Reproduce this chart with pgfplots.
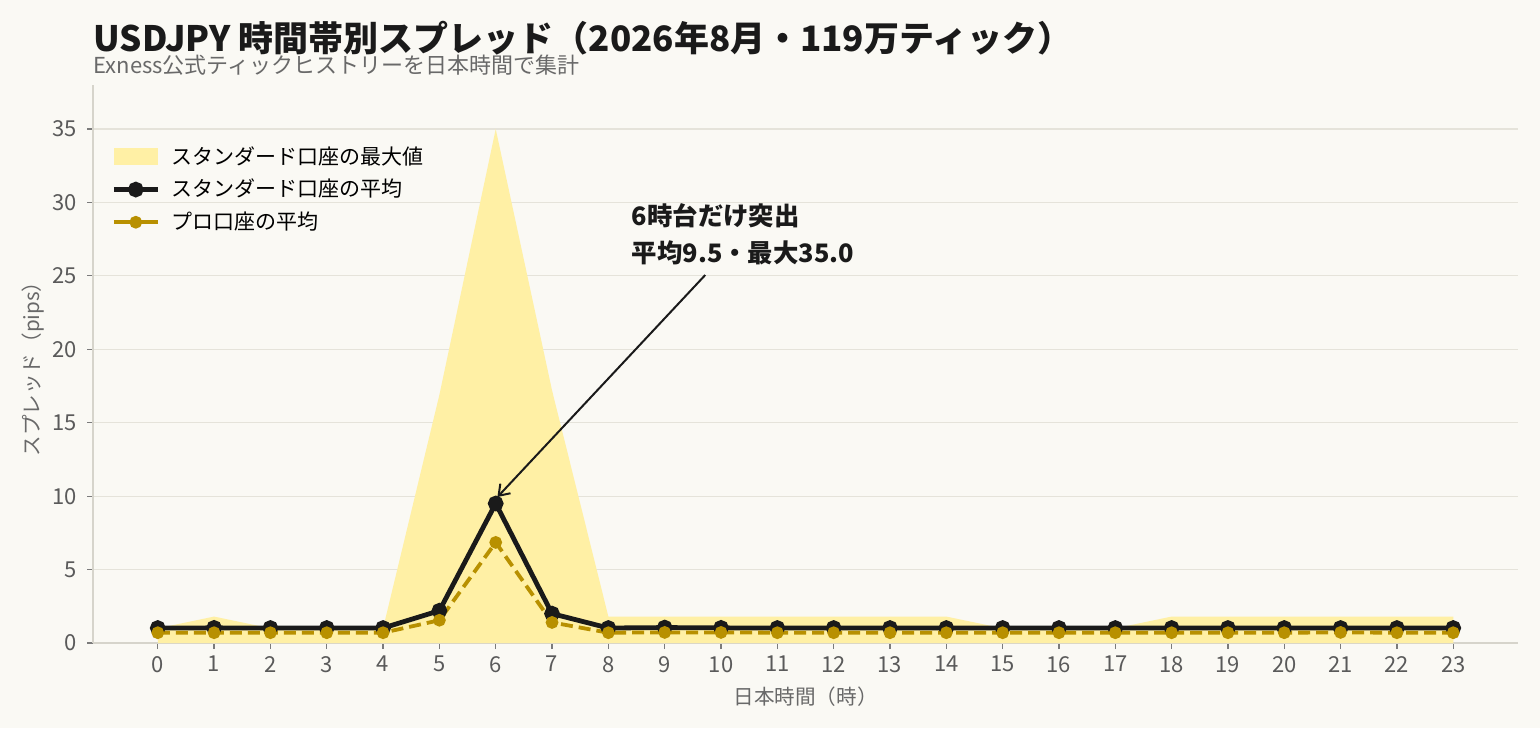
\documentclass[border=0pt]{standalone}
\usepackage{fontspec}
\setmainfont{Noto Sans CJK JP}
\usepackage{pgfplots}
\pgfplotsset{compat=1.18}
\usetikzlibrary{arrows.meta}
\definecolor{bg}{RGB}{250,249,244}
\definecolor{gridc}{RGB}{229,227,218}
\definecolor{spine}{RGB}{214,212,203}
\definecolor{areacol}{RGB}{255,240,165}
\definecolor{stdcol}{RGB}{26,26,26}
\definecolor{procol}{RGB}{184,144,0}
\definecolor{tickc}{RGB}{90,90,90}
\definecolor{labc}{RGB}{105,105,105}
\definecolor{titlec}{RGB}{26,26,26}
\pgfplotsset{
  arealeg/.style={legend image code/.code={\fill[areacol] (0pt,-4.25pt) rectangle (22pt,4.25pt);}},
  lineleg/.style={legend image code/.code={\draw[mark repeat=2,mark phase=2,##1,solid] plot coordinates {(0pt,0pt) (11pt,0pt) (22pt,0pt)};}},
}
\begin{document}
\begin{tikzpicture}
\fill[bg] (0,0) rectangle (770pt,364pt);
\useasboundingbox (0,0) rectangle (770pt,364pt);
\node[anchor=base west, inner sep=0, font=\bfseries\fontsize{17.5}{20}\selectfont, text=titlec] at (46.5pt,338pt) {USDJPY 時間帯別スプレッド（2026年8月・119万ティック）};
\node[anchor=base west, inner sep=0, font=\fontsize{11}{12}\selectfont, text=labc] at (46.5pt,327pt) {Exness公式ティックヒストリーを日本時間で集計};
\begin{axis}[
  at={(46.5pt,42.5pt)}, anchor=south west,
  scale only axis, width=712.5pt, height=279pt,
  xmin=-1.15, xmax=24.15, ymin=0, ymax=38,
  axis lines=left,
  axis line style={draw=spine, line width=0.6pt, -},
  xtick={0,1,...,23}, ytick={0,5,...,35},
  tick align=outside,
  major tick length=3pt,
  tick style={draw=tickc!80, line width=0.6pt},
  ymajorgrids, grid style={draw=gridc, line width=0.6pt},
  /pgf/number format/assume math mode=true,
  ticklabel style={font=\fontsize{11}{13}\selectfont, text=tickc},
  yticklabel style={xshift=-1.5pt},
  xlabel={日本時間（時）}, ylabel={スプレッド（pips）},
  label style={font=\fontsize{10.3}{12}\selectfont, text=labc},
  xlabel style={at={(axis description cs:0.5,0)}, anchor=center, yshift=-27pt},
  ylabel style={at={(axis description cs:-0.0421,0.5)}, anchor=center},
  legend cell align=left,
  legend style={at={(0,1)}, anchor=north west, xshift=6pt, yshift=-27pt, draw=none, fill=none,
    font=\fontsize{10.5}{12}\selectfont, row sep=3pt, nodes={inner sep=1.5pt},
    /tikz/every odd column/.append style={column sep=4pt}},
]
\addplot[fill=areacol, draw=none, arealeg]
  table[x=h, y=v] {
h v
0 1.0
1 1.8
2 1.0
3 1.0
4 1.0
5 16.9
6 35.0
7 17.2
8 1.8
9 1.8
10 1.8
11 1.8
12 1.8
13 1.8
14 1.8
15 1.0
16 1.0
17 1.0
18 1.8
19 1.8
20 1.8
21 1.8
22 1.8
23 1.8
} \closedcycle;
\addlegendentry{スタンダード口座の最大値}
\addplot[color=stdcol, line width=2.4pt, mark=*, mark size=2.7pt, lineleg]
  table[x=h, y=v] {
h v
0 1.02
1 1.03
2 1.02
3 1.02
4 1.02
5 2.2
6 9.5
7 2.0
8 1.02
9 1.05
10 1.03
11 1.02
12 1.02
13 1.02
14 1.02
15 1.02
16 1.02
17 1.02
18 1.02
19 1.02
20 1.02
21 1.02
22 1.02
23 1.02
};
\addlegendentry{スタンダード口座の平均}
\addplot[color=procol, line width=1.9pt, dash pattern=on 6pt off 3pt, mark=*, mark size=2.2pt, mark options={solid}, lineleg]
  table[x=h, y=v] {
h v
0 0.7
1 0.7
2 0.7
3 0.7
4 0.7
5 1.55
6 6.85
7 1.4
8 0.7
9 0.72
10 0.72
11 0.7
12 0.7
13 0.7
14 0.7
15 0.7
16 0.7
17 0.7
18 0.7
19 0.7
20 0.7
21 0.72
22 0.7
23 0.7
};
\addlegendentry{プロ口座の平均}
\draw[-{Straight Barb[length=5pt,width=7pt]}, line width=1pt, color=stdcol] (axis cs:9.72,25.06) -- (axis cs:6.03,9.94);
\node[anchor=west, align=left, inner sep=0, font=\bfseries\fontsize{12.7}{18.5}\selectfont, text=stdcol] at (axis cs:8.41,27.85) {6時台だけ突出\\平均9.5・最大35.0};
\end{axis}
\end{tikzpicture}
\end{document}
